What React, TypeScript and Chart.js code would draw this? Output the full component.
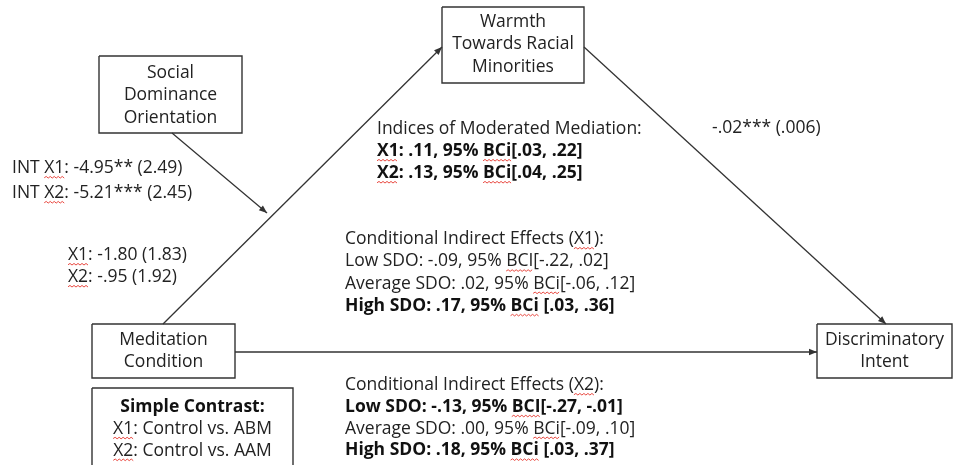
import React, { useEffect, useRef } from "react";
import { Chart, registerables } from "chart.js";

Chart.register(...registerables);

// ---- content (text values) ----
const nodeLabels: string[][] = [
  ["Social", "Dominance", "Orientation"],
  ["Warmth", "Towards Racial", "Minorities"],
  ["Meditation", "Condition"],
  ["Discriminatory", "Intent"],
];
const pathModLines = ["INT X1: -4.95** (2.49)", "INT X2: -5.21*** (2.45)"];
const pathALines = ["X1: -1.80 (1.83)", "X2: -.95 (1.92)"];
const pathBLines = ["-.02*** (.006)"];
const indexLines = ["Indices of Moderated Mediation:", "X1: .11, 95% BCi[.03, .22]", "X2: .13, 95% BCi[.04, .25]"];
const indexBold = [false, true, true];
const condX1Lines = [
  "Conditional Indirect Effects (X1):",
  "Low SDO: -.09, 95% BCI[-.22, .02]",
  "Average SDO: .02, 95% BCi[-.06, .12]",
  "High SDO: .17, 95% BCi [.03, .36]",
];
const condX1Bold = [false, false, false, true];
const condX2Lines = [
  "Conditional Indirect Effects (X2):",
  "Low SDO: -.13, 95% BCI[-.27, -.01]",
  "Average SDO: .00, 95% BCi[-.09, .10]",
  "High SDO: .18, 95% BCi [.03, .37]",
];
const condX2Bold = [false, true, false, true];
const contrastLines = ["Simple Contrast:", "X1: Control vs. ABM", "X2: Control vs. AAM"];
const contrastBold = [true, false, false];

// ---- layout (diagram coordinates, scale units) ----
const W = 953;
const H = 465;
const FONT = "'Open Sans', 'Liberation Sans', sans-serif";
const FS = 17.5;
const TEXT = "#222222";
const LINE = "#333333";

type Rect = [number, number, number, number];
const nodeRects: Rect[] = [
  [99, 56, 242, 133],
  [442, 7, 584, 83],
  [92, 324, 235, 378],
  [817, 324, 952, 378],
];
const nodeTextY = [73, 22, 340, 340];
const contrastRect: Rect = [92, 388, 293, 480];

const arrows: [number, number, number, number][] = [
  [163, 324, 442, 47],
  [172, 133, 267, 213],
  [584, 47, 886, 324],
  [235, 352, 817, 352],
];

type Block = { lines: string[]; bold?: boolean[]; x: number; y: number; gap: number; align: CanvasTextAlign };
const blocks: Block[] = [
  ...nodeLabels.map((lines, i) => ({
    lines,
    x: (nodeRects[i][0] + nodeRects[i][2]) / 2,
    y: nodeTextY[i],
    gap: 22.3,
    align: "center" as CanvasTextAlign,
  })),
  { lines: pathModLines, x: 12, y: 168, gap: 25, align: "left" },
  { lines: pathALines, x: 68, y: 255, gap: 22, align: "left" },
  { lines: pathBLines, x: 712, y: 128, gap: 22, align: "left" },
  { lines: indexLines, bold: indexBold, x: 377, y: 129, gap: 22, align: "left" },
  { lines: condX1Lines, bold: condX1Bold, x: 345, y: 239, gap: 22.3, align: "left" },
  { lines: condX2Lines, bold: condX2Bold, x: 345, y: 385, gap: 21.8, align: "left" },
  { lines: contrastLines, bold: contrastBold, x: 192.5, y: 407, gap: 21.8, align: "center" },
];

function rectPoints(r: Rect) {
  return [
    { x: r[0], y: r[1] },
    { x: r[2], y: r[1] },
    { x: r[2], y: r[3] },
    { x: r[0], y: r[3] },
    { x: r[0], y: r[1] },
  ];
}

const diagramPlugin = {
  id: "diagramPlugin",
  afterDatasetsDraw(chart: any) {
    const ctx: CanvasRenderingContext2D = chart.ctx;
    const xs = chart.scales.x;
    const ys = chart.scales.y;
    // arrowheads
    chart.data.datasets.forEach((ds: any, i: number) => {
      if (!ds.arrow) return;
      const pts = chart.getDatasetMeta(i).data;
      const a = pts[pts.length - 2];
      const b = pts[pts.length - 1];
      const ang = Math.atan2(b.y - a.y, b.x - a.x);
      const L = 8;
      const Wd = 3.2;
      ctx.save();
      ctx.fillStyle = LINE;
      ctx.beginPath();
      ctx.moveTo(b.x, b.y);
      ctx.lineTo(b.x - L * Math.cos(ang) + Wd * Math.sin(ang), b.y - L * Math.sin(ang) - Wd * Math.cos(ang));
      ctx.lineTo(b.x - L * Math.cos(ang) - Wd * Math.sin(ang), b.y - L * Math.sin(ang) + Wd * Math.cos(ang));
      ctx.closePath();
      ctx.fill();
      ctx.restore();
    });
    // text
    ctx.save();
    ctx.textBaseline = "middle";
    blocks.forEach((b) => {
      b.lines.forEach((line, li) => {
        const bold = b.bold ? b.bold[li] : false;
        ctx.font = `${bold ? "bold " : ""}${FS}px ${FONT}`;
        ctx.fillStyle = bold ? "#111111" : TEXT;
        ctx.textAlign = b.align;
        const px = xs.getPixelForValue(b.x);
        const py = ys.getPixelForValue(b.y + li * b.gap);
        ctx.fillText(line, px, py);
        // spell-check squiggles
        const total = ctx.measureText(line).width;
        const start = b.align === "center" ? px - total / 2 : px;
        const re = /X1|X2|BCi|BCI/g;
        let m: RegExpExecArray | null;
        while ((m = re.exec(line))) {
          const x0 = start + ctx.measureText(line.slice(0, m.index)).width;
          const w = ctx.measureText(m[0]).width;
          const yy = py + FS * 0.5 + 1;
          ctx.save();
          ctx.strokeStyle = "#e8473f";
          ctx.lineWidth = 1;
          ctx.beginPath();
          let up = true;
          ctx.moveTo(x0, yy);
          for (let xx = x0 + 2; xx <= x0 + w; xx += 2) {
            ctx.lineTo(xx, yy + (up ? -1.3 : 0.3));
            up = !up;
          }
          ctx.stroke();
          ctx.restore();
        }
      });
    });
    ctx.restore();
  },
};

export default function App() {
  const ref = useRef<HTMLCanvasElement>(null);
  useEffect(() => {
    if (!ref.current) return;
    const datasets: any[] = [];
    [...nodeRects, contrastRect].forEach((r) => {
      datasets.push({
        data: rectPoints(r),
        showLine: true,
        borderColor: LINE,
        borderWidth: 1.4,
        pointRadius: 0,
        fill: false,
        tension: 0,
      });
    });
    arrows.forEach((a) => {
      datasets.push({
        data: [
          { x: a[0], y: a[1] },
          { x: a[2], y: a[3] },
        ],
        arrow: true,
        showLine: true,
        borderColor: LINE,
        borderWidth: 1.3,
        pointRadius: 0,
        fill: false,
      });
    });
    const chart = new Chart(ref.current, {
      type: "scatter",
      data: { datasets },
      options: {
        animation: false,
        responsive: false,
        devicePixelRatio: 1,
        layout: { padding: 0 },
        plugins: { legend: { display: false }, tooltip: { enabled: false } },
        scales: {
          x: { type: "linear", min: 0, max: W, display: false },
          y: { type: "linear", min: 0, max: H, reverse: true, display: false },
        },
      },
      plugins: [diagramPlugin],
    } as any);
    return () => chart.destroy();
  }, []);
  return (
    <div style={{ position: "fixed", left: 0, top: 0, width: W, height: H, background: "#fff" }}>
      <canvas ref={ref} width={W} height={H} style={{ display: "block" }} />
    </div>
  );
}
